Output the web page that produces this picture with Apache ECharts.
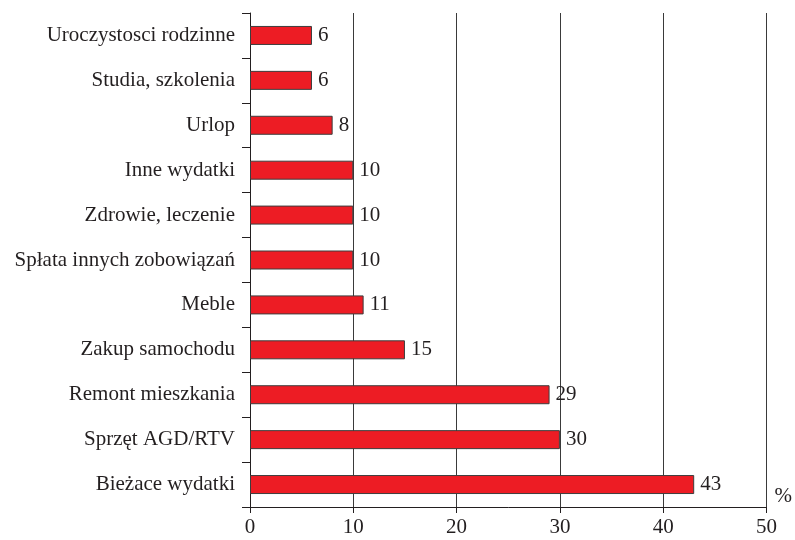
<!DOCTYPE html>
<html>
<head>
<meta charset="utf-8">
<script src="https://cdn.jsdelivr.net/npm/echarts@6/dist/echarts.min.js"></script>
<style>
  html, body { margin: 0; padding: 0; background: #fff; }
  #chart { width: 795px; height: 540px; }
</style>
</head>
<body>
<div id="chart"></div>
<script>
// Spending categories, listed from top to bottom
const categories = [
  'Uroczystosci rodzinne',
  'Studia, szkolenia',
  'Urlop',
  'Inne wydatki',
  'Zdrowie, leczenie',
  'Spłata innych zobowiązań',
  'Meble',
  'Zakup samochodu',
  'Remont mieszkania',
  'Sprzęt AGD/RTV',
  'Bieżace wydatki'
];
// Share of respondents, in percent
const values = [6, 6, 8, 10, 10, 10, 11, 15, 29, 30, 43];
const axisMax = 50;
const axisStep = 10;

const font = 'Liberation Serif, Times New Roman, serif';
const ink = '#231f20';

const chart = echarts.init(document.getElementById('chart'), null, { renderer: 'canvas' });
chart.setOption({
  animation: false,
  backgroundColor: '#ffffff',
  grid: { left: 250, right: 26, top: 13, bottom: 33, containLabel: false },
  xAxis: {
    type: 'value',
    min: 0,
    max: axisMax,
    interval: axisStep,
    name: '%',
    nameLocation: 'end',
    nameGap: 8,
    nameTextStyle: { fontFamily: font, fontSize: 21, color: ink, verticalAlign: 'bottom' },
    axisLine: { show: true, lineStyle: { color: ink, width: 1 } },
    axisTick: { show: true, inside: false, length: 6, lineStyle: { color: ink } },
    axisLabel: { fontFamily: font, fontSize: 21, color: ink, margin: 10 },
    splitLine: { show: true, lineStyle: { color: '#3a3a3a', width: 1 } }
  },
  yAxis: {
    type: 'category',
    data: categories,
    inverse: true,
    axisLine: { show: true, lineStyle: { color: ink, width: 1 } },
    axisTick: { show: true, inside: false, length: 8, alignWithLabel: false, lineStyle: { color: ink } },
    axisLabel: { fontFamily: font, fontSize: 21, color: ink, margin: 15 },
    splitLine: { show: false }
  },
  series: [{
    type: 'bar',
    data: values,
    barWidth: 19,
    itemStyle: { color: '#ed1c24', borderColor: '#3d3d3d', borderWidth: 1 },
    label: {
      show: true,
      position: 'right',
      distance: 6,
      fontFamily: font,
      fontSize: 21,
      color: ink
    }
  }]
});
</script>
</body>
</html>
